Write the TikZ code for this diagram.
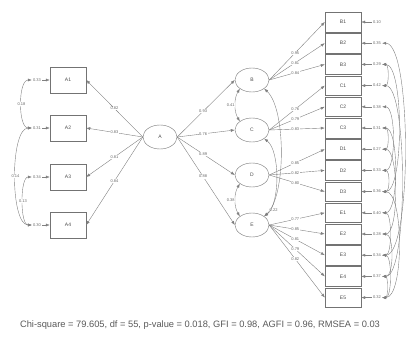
\documentclass[tikz,border=0pt]{standalone}
\usepackage{fontspec}
\setmainfont{Liberation Sans}
\usetikzlibrary{shapes.geometric,positioning,arrows.meta}

\begin{document}
\begin{tikzpicture}[x=1pt,y=-1pt,>={Latex[length=4pt,width=3pt]},
  obs/.style={draw=black!55,minimum width=36pt,minimum height=26pt,inner sep=0pt,font=\fontsize{5}{6}\selectfont,text=black!70},
  obsr/.style={obs,minimum height=19.5pt},
  lat/.style={ellipse,draw=black!55,minimum width=34pt,minimum height=24pt,inner sep=0pt,font=\fontsize{5}{6}\selectfont,text=black!70},
  load/.style={draw=black!50,->},
  cov/.style={draw=black!50,<->},
  est/.style={font=\fontsize{4}{5}\selectfont,text=black!60,inner sep=0.5pt,fill=white},
  err/.style={font=\fontsize{4}{5}\selectfont,text=black!60,inner sep=1pt}]
\useasboundingbox (0,0) rectangle (408,338);

% left indicators
\foreach \i/\y/\e in {1/80/0.33,2/128/0.31,3/177/0.34,4/225/0.30} {
  \node[obs] (a\i) at (68,\y) {A\i};
  \node[err] (ea\i) at (37,\y) {\e};
  \draw[load] (ea\i) -- (a\i);
}
\draw[cov] (ea1.west) .. controls +(-14,0) and +(-14,0) .. node[est]{0.18} (ea2.west);
\draw[cov] (ea2.west) .. controls +(-22,0) and +(-22,0) .. node[est]{0.14} (ea4.west);
\draw[cov] (ea3.west) .. controls +(-12,0) and +(-12,0) .. node[est]{0.13} (ea4.west);

% central factor
\node[lat] (A) at (160,137) {A};
\foreach \i/\l in {1/0.82,2/0.83,3/0.81,4/0.84}
  \draw[load] (A.west) -- node[est]{\l} (a\i.east);

% first order factors
\node[lat] (B) at (252,80) {B};
\node[lat] (C) at (252,130) {C};
\node[lat] (D) at (252,175) {D};
\node[lat] (E) at (252,225) {E};
\foreach \f/\l in {B/0.93,C/0.76,D/0.89,E/0.88}
  \draw[load] (A.east) -- node[est,pos=0.45]{\l} (\f.west);
\draw[cov] (B.south west) .. controls +(-6,10) and +(-6,-10) .. node[est,left]{0.41} (C.north west);
\draw[cov] (D.south west) .. controls +(-6,10) and +(-6,-10) .. node[est,left]{0.38} (E.north west);
\draw[cov] (B.south east) .. controls +(22,20) and +(22,-20) .. node[est,pos=0.92,right]{0.22} (E.north east);
\draw[cov] (C.south east) .. controls +(16,12) and +(16,-12) .. (E.north east);

% right indicators
\foreach \i/\n/\e in {1/B1/0.10,2/B2/0.35,3/B3/0.29,4/C1/0.42,5/C2/0.38,6/C3/0.31,7/D1/0.27,
    8/D2/0.33,9/D3/0.36,10/E1/0.40,11/E2/0.28,12/E3/0.34,13/E4/0.37,14/E5/0.32} {
  \pgfmathsetmacro\yy{22+(\i-1)*21.2}
  \node[obsr] (r\i) at (343,\yy) {\n};
  \node[err] (er\i) at (377,\yy) {\e};
  \draw[load] (er\i) -- (r\i);
}
\foreach \f/\i/\l in {B/1/0.95,B/2/0.81,B/3/0.84,C/4/0.76,C/5/0.79,C/6/0.83,D/7/0.85,D/8/0.82,
    D/9/0.80,E/10/0.77,E/11/0.85,E/12/0.81,E/13/0.79,E/14/0.82}
  \draw[load] (\f.east) -- node[est,pos=0.47]{\l} (r\i.west);

% residual covariances
\foreach \a/\b/\c in {2/12/30,3/9/22,4/13/26,5/8/14,6/10/17,7/11/17,8/9/8,9/14/22,
    10/12/10,11/13/12,12/14/10,3/4/7,6/7/7,13/14/6}
  \draw[cov] (er\a.east) .. controls +(\c,0) and +(\c,0) .. (er\b.east);

\node[font=\fontsize{9.3}{11}\selectfont,text=black!65] (fit) at (200,325)
  {Chi-square = 79.605, df = 55, p-value = 0.018, GFI = 0.98, AGFI = 0.96, RMSEA = 0.03};
\end{tikzpicture}
\end{document}
